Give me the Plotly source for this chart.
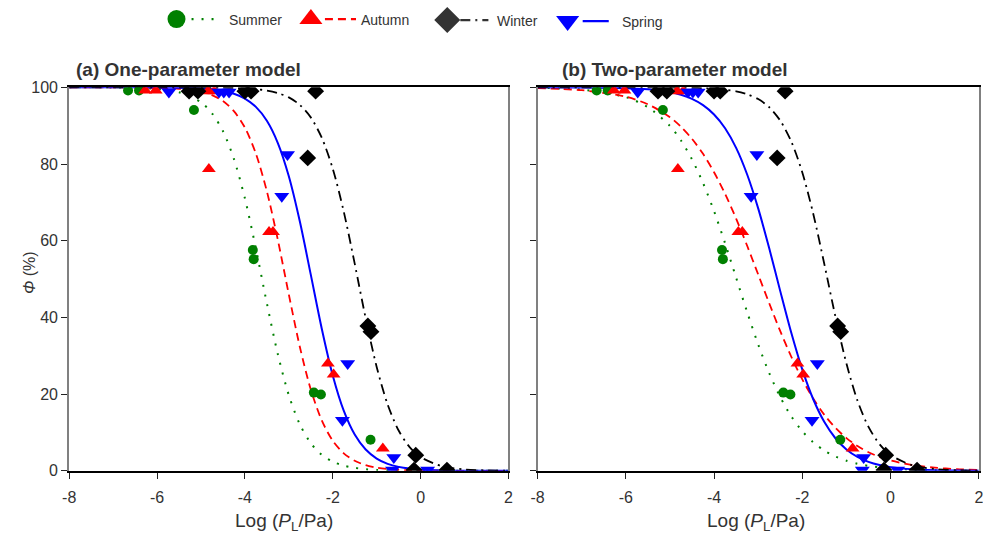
import plotly.graph_objects as go

# The captured page area is slightly larger than the figure window and the page
# body keeps an 8 px margin, so layout positions are written in final-image
# pixels and converted to figure pixels through this measured mapping.
IMG_W, IMG_H = 983, 534
BODY = 8
SX, SY = 0.985, 0.965
W, H = 990, 546
FONT = "Liberation Sans, Arial, sans-serif"
TXT = "#333333"

# ---- measured points: log10(P_L / Pa) and Φ (%) ----
summer_x = [-6.66, -6.41, -5.16, -3.82, -3.80, -2.43, -2.27, -1.14]
summer_y = [99.2, 99.2, 94.1, 57.6, 55.2, 20.4, 19.9, 8.1]

autumn_x = [-6.27, -6.03, -4.84, -4.70, -4.82, -3.45, -3.36, -2.11, -1.98, -0.86]
autumn_y = [99.2, 99.2, 99.0, 99.0, 78.7, 62.3, 62.3, 28.0, 25.1, 5.8]

winter_x = [-5.27, -5.07, -4.00, -3.86, -2.39, -2.57, -1.20, -1.13, -0.11, -0.15, 0.60]
winter_y = [99.0, 99.0, 99.0, 99.0, 99.0, 81.6, 37.8, 36.3, 4.1, 0.2, 0.2]

spring_x = [-5.73, -4.59, -4.48, -4.36, -3.16, -3.03, -1.66, -1.78, -0.61, -0.64, 0.16]
spring_y = [98.8, 98.8, 98.8, 98.8, 71.6, 82.5, 28.0, 13.2, 3.5, 0.2, 0.2]

# ---- fitted model curves, sampled on a common log-pressure grid ----
curve_x = [-8, -7, -6, -5.5, -5, -4.75, -4.5, -4.25, -4, -3.75, -3.5, -3.25, -3,
           -2.75, -2.5, -2.25, -2, -1.75, -1.5, -1.25, -1, -0.75, -0.5, -0.25,
           0, 0.5, 1, 1.5, 2]

# (a) one-parameter model
one_summer = [100.0, 99.96, 99.59, 98.73, 96.09, 93.25, 88.59, 81.36, 71.05, 57.99,
              43.70, 30.39, 19.71, 12.13, 7.20, 4.18, 2.40, 1.36, 0.77, 0.43, 0.25,
              0.14, 0.08, 0.04, 0.02, 0.01, 0.0, 0.0, 0.0]
one_autumn = [100.0, 99.99, 99.88, 99.63, 98.84, 97.95, 96.42, 93.80, 89.49, 82.72,
              72.91, 60.22, 45.98, 32.37, 21.21, 13.15, 7.84, 4.57, 2.62, 1.49, 0.84,
              0.48, 0.27, 0.15, 0.09, 0.03, 0.01, 0.0, 0.0]
one_winter = [100.0, 100.0, 100.0, 99.99, 99.97, 99.95, 99.91, 99.85, 99.73, 99.52,
              99.16, 98.51, 97.38, 95.43, 92.16, 86.85, 78.79, 67.63, 54.02, 39.78,
              27.09, 17.28, 10.51, 6.20, 3.58, 1.16, 0.37, 0.12, 0.04]
one_spring = [100.0, 100.0, 99.97, 99.90, 99.70, 99.47, 99.05, 98.33, 97.07, 94.90,
              91.28, 85.48, 76.80, 65.06, 51.15, 37.06, 24.88, 15.70, 9.48, 5.56, 3.21,
              1.83, 1.04, 0.59, 0.33, 0.10, 0.03, 0.01, 0.0]

# (b) two-parameter model
two_summer = [99.86, 99.39, 97.44, 94.83, 89.94, 86.14, 81.22, 75.06, 67.70, 59.32,
              50.36, 41.39, 32.95, 25.48, 19.22, 14.21, 10.33, 7.42, 5.29, 3.74, 2.63,
              1.85, 1.29, 0.90, 0.63, 0.31, 0.15, 0.07, 0.03]
two_autumn = [99.78, 99.25, 97.54, 95.58, 92.19, 89.71, 86.56, 82.65, 77.87, 72.23,
              65.77, 58.69, 51.20, 43.69, 36.43, 29.75, 23.83, 18.79, 14.59, 11.21,
              8.53, 6.45, 4.85, 3.63, 2.71, 1.50, 0.82, 0.45, 0.25]
two_winter = [100.0, 100.0, 100.0, 99.99, 99.96, 99.93, 99.88, 99.80, 99.65, 99.40,
              98.96, 98.21, 96.93, 94.80, 91.32, 85.86, 77.80, 66.91, 53.84, 40.22,
              27.97, 18.30, 11.45, 6.94, 4.13, 1.41, 0.47, 0.16, 0.05]
two_spring = [99.99, 99.97, 99.79, 99.49, 98.76, 98.06, 96.99, 95.36, 92.92, 89.32,
              84.21, 77.27, 68.44, 58.03, 46.86, 35.99, 26.39, 18.60, 12.72, 8.50,
              5.59, 3.64, 2.35, 1.51, 0.97, 0.40, 0.16, 0.07, 0.03]

x_ticks = [-8, -6, -4, -2, 0, 2]
x_tick_text = ["-8", "-6", "-4", "-2", "0", "2"]
y_ticks = [0, 20, 40, 60, 80, 100]
season_names = ["Summer", "Autumn", "Winter", "Spring"]

# ---- styles ----
STYLE = {
    "Summer": dict(color="#008000", symbol="circle", size=10, dash="2px,8px", width=2),
    "Autumn": dict(color="#ff0000", symbol="triangle-up", size=12, dash="8px,5px", width=1.8),
    "Winter": dict(color="#000000", symbol="diamond", size=13, dash="10px,5px,2px,5px", width=1.8),
    "Spring": dict(color="#0000ff", symbol="triangle-down", size=13, dash="solid", width=2),
}

points = {
    "Summer": (summer_x, summer_y),
    "Autumn": (autumn_x, autumn_y),
    "Winter": (winter_x, winter_y),
    "Spring": (spring_x, spring_y),
}
curves = {
    1: {"Summer": one_summer, "Autumn": one_autumn, "Winter": one_winter, "Spring": one_spring},
    2: {"Summer": two_summer, "Autumn": two_autumn, "Winter": two_winter, "Spring": two_spring},
}


def px_x(v):
    """final-image x pixel -> paper fraction"""
    return (v - BODY) / SX / W


def px_y(v):
    """final-image y pixel -> paper fraction"""
    return 1 - (v - BODY) / SY / H


fig = go.Figure()

for panel in (1, 2):
    xa = "x" if panel == 1 else "x2"
    ya = "y" if panel == 1 else "y2"
    for name in ["Summer", "Autumn", "Spring", "Winter"]:
        s = STYLE[name]
        fig.add_trace(go.Scatter(
            x=curve_x, y=curves[panel][name], mode="lines",
            line=dict(color=s["color"], width=s["width"], dash=s["dash"],
                      shape="spline", smoothing=0.8),
            xaxis=xa, yaxis=ya, showlegend=False, hoverinfo="skip"))
    for name in ["Summer", "Autumn", "Winter", "Spring"]:
        s = STYLE[name]
        px_, py_ = points[name]
        fig.add_trace(go.Scatter(
            x=px_, y=py_, mode="markers",
            marker=dict(color=s["color"], symbol=s["symbol"], size=s["size"],
                        line=dict(width=0)),
            xaxis=xa, yaxis=ya, showlegend=False))

# ---- key row across the top (hidden axis scaled in final-image pixels) ----
key_marker_x = [177, 311, 447, 567]
key_line_x0 = [192, 325, 460, 582]
key_line_x1 = [220, 356, 488, 608]
key_text_x = [227, 359, 495, 619]
key_y = [19, 19, 20, 21]
key_sizes = [18, 20, 20, 20]
for i, name in enumerate(season_names):
    s = STYLE[name]
    col = "#333333" if name == "Winter" else s["color"]
    fig.add_trace(go.Scatter(
        x=[key_line_x0[i], key_line_x1[i]], y=[key_y[i], key_y[i]], mode="lines",
        line=dict(color=col, width=2.2, dash=s["dash"]),
        xaxis="x3", yaxis="y3", showlegend=False, hoverinfo="skip"))
    fig.add_trace(go.Scatter(
        x=[key_marker_x[i]], y=[key_y[i]], mode="markers",
        marker=dict(color=col, symbol=s["symbol"], size=key_sizes[i], line=dict(width=0)),
        xaxis="x3", yaxis="y3", showlegend=False, hoverinfo="skip", cliponaxis=False))

annotations = []
for i, name in enumerate(season_names):
    annotations.append(dict(
        text=name, x=key_text_x[i], y=key_y[i] + 1, xref="x3", yref="y3",
        xanchor="left", yanchor="middle", showarrow=False,
        font=dict(family=FONT, size=14, color=TXT)))

annotations += [
    dict(text="<b>(a) One-parameter model</b>", x=px_x(75), y=px_y(69), xref="paper", yref="paper",
         xanchor="left", yanchor="middle", showarrow=False, font=dict(family=FONT, size=19, color=TXT)),
    dict(text="<b>(b) Two-parameter model</b>", x=px_x(559), y=px_y(69), xref="paper", yref="paper",
         xanchor="left", yanchor="middle", showarrow=False, font=dict(family=FONT, size=19, color=TXT)),
    dict(text="<i>Φ</i> (%)", x=px_x(30), y=px_y(272), xref="paper", yref="paper",
         textangle=-90, xanchor="center", yanchor="middle", showarrow=False,
         font=dict(family=FONT, size=16, color=TXT)),
    dict(text="Log (<i>P</i><sub>L</sub>/Pa)", x=px_x(284), y=px_y(520), xref="paper", yref="paper",
         xanchor="center", yanchor="middle", showarrow=False, font=dict(family=FONT, size=19, color=TXT)),
    dict(text="Log (<i>P</i><sub>L</sub>/Pa)", x=px_x(755), y=px_y(520), xref="paper", yref="paper",
         xanchor="center", yanchor="middle", showarrow=False, font=dict(family=FONT, size=19, color=TXT)),
]

y_dom = [px_y(469), px_y(87)]
common_x = dict(range=[-8, 2], tickvals=x_ticks, ticktext=x_tick_text, ticks="outside",
                ticklen=6, tickwidth=1, tickcolor="#222222", showline=True,
                linecolor="#000000", linewidth=1.5, mirror=True, showgrid=False,
                zeroline=False, ticklabelstandoff=5,
                tickfont=dict(family=FONT, size=16, color=TXT), fixedrange=True)
common_y = dict(range=[0, 100], tickvals=y_ticks, ticks="outside", ticklen=6, tickwidth=1,
                tickcolor="#222222", showline=True, linecolor="#808080", linewidth=2,
                mirror=True, showgrid=False, zeroline=False,
                tickfont=dict(family=FONT, size=16, color=TXT), fixedrange=True)

fig.update_layout(
    width=W, height=H,
    margin=dict(l=0, r=0, t=0, b=0),
    paper_bgcolor="white", plot_bgcolor="white",
    showlegend=False,
    xaxis=dict(domain=[px_x(70), px_x(508)], anchor="y", **common_x),
    yaxis=dict(domain=y_dom, anchor="x", **common_y),
    xaxis2=dict(domain=[px_x(537), px_x(977)], anchor="y2", **common_x),
    yaxis2=dict(domain=y_dom, anchor="x2", showticklabels=False, **common_y),
    xaxis3=dict(domain=[0, 1], range=[BODY, BODY + SX * W], visible=False, anchor="y3",
                fixedrange=True),
    yaxis3=dict(domain=[px_y(48), 1], range=[48, BODY], visible=False, anchor="x3",
                fixedrange=True),
    annotations=annotations,
)

fig.write_html("out.html")
